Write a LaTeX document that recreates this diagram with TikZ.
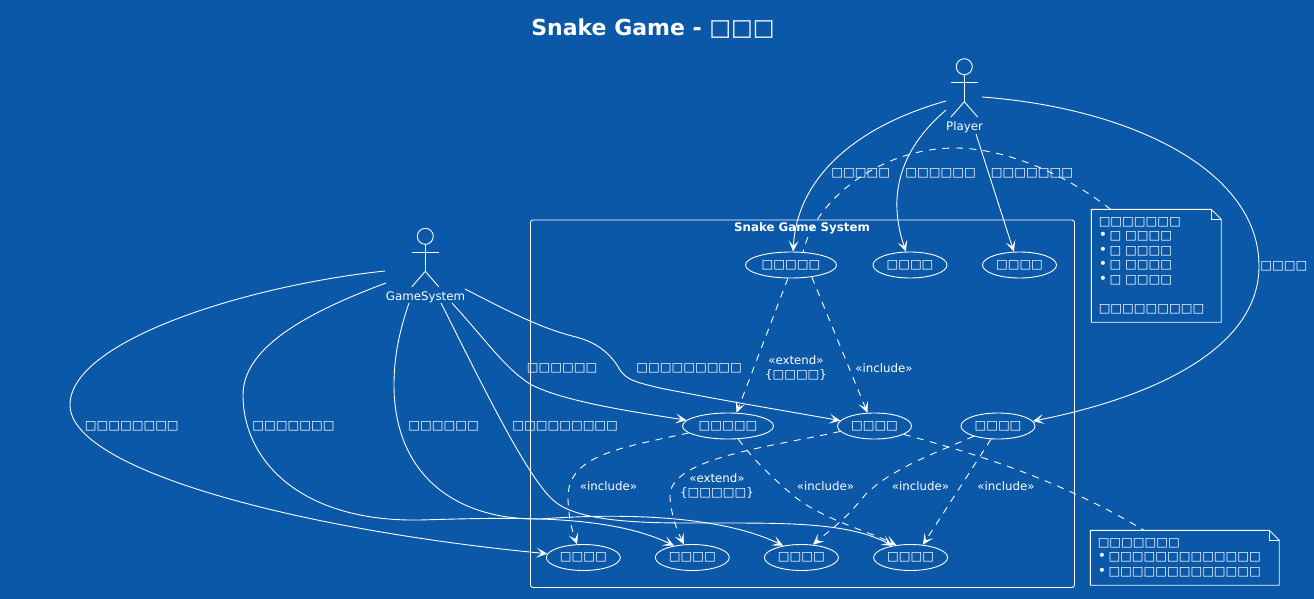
\documentclass[tikz,border=0pt]{standalone}
\usepackage{fontspec}
\setmainfont{DejaVu Sans}
\usepackage{tikz}
\usetikzlibrary{arrows.meta}
\usetikzlibrary{calc}
\usetikzlibrary{shapes.geometric}
\definecolor{bpblue}{HTML}{0B58A8}
\newcommand{\tofu}[1]{{\fontsize{12.4}{12.4}\selectfont #1}}
\newcommand{\blt}{{\fontsize{14}{14}\selectfont •}\hspace{2.5pt}}
\tikzset{
  >={Stealth[length=11pt,width=10pt,inset=5.5pt]},
  txt/.style={inner sep=0pt,font=\fontsize{11.8}{14}\selectfont,align=center},
  ucase/.style={draw,shape=ellipse,inner sep=0pt,minimum width=74pt,minimum height=26pt},
  ucwide/.style={ucase,minimum width=91pt},
  notetxt/.style={txt,align=left,anchor=north west,inner xsep=7pt,font=\fontsize{11.8}{14.6}\selectfont},
  dep/.style={dash pattern=on 7pt off 6.5pt},
  actorfig/.pic={
    \draw (0,0) circle[radius=8pt];
    \draw (0,8) -- (0,35);
    \draw (-13.5,16) -- (13.5,16);
    \draw (-13.5,50.5) -- (0,35) -- (13.5,50.5);
  }
}

\begin{document}
\begin{tikzpicture}[x=1pt,y=-1pt,white,line width=0.9pt]
  \fill[bpblue] (0,0) rectangle (1314,599);
  \useasboundingbox (0,0) rectangle (1314,599);
  \node[txt,font=\bfseries\fontsize{22}{24}\selectfont] (title) at (653,29) {Snake Game - {\mdseries\fontsize{23}{23}\selectfont □□□}};

  \node[draw,rounded corners=2.5pt,anchor=north west,inner sep=0pt,minimum width=544pt,minimum height=367.5pt] (sysbox) at (530,219.5) {};
  \node[txt,font=\bfseries\fontsize{11.8}{14}\selectfont] (systitle) at (802,228.5) {Snake Game System};

  \pic at (964.3,66.7) {actorfig};
  \node[txt] (player) at (964.5,127) {Player};
  \pic at (425.3,236.3) {actorfig};
  \node[txt] (gamesys) at (425.5,297) {GameSystem};

  \coordinate (playerA) at (946,101);
  \coordinate (playerB) at (946,110);
  \coordinate (playerC) at (976,134);
  \coordinate (playerD) at (982,97);
  \coordinate (gameA) at (385,271);
  \coordinate (gameB) at (386,283);
  \coordinate (gameC) at (409,303);
  \coordinate (gameD) at (441,303);
  \coordinate (gameE) at (452,303);
  \coordinate (gameF) at (465,289);

  \node[ucwide] (ucStart) at (791,265) {\tofu{□□□□□}};
  \node[ucase] (ucPause) at (910,265) {\tofu{□□□□}};
  \node[ucase] (ucSetup) at (1019.5,265) {\tofu{□□□□}};
  \node[ucwide] (ucSpawn) at (728,426) {\tofu{□□□□□}};
  \node[ucase] (ucMove) at (874.5,426) {\tofu{□□□□}};
  \node[ucase] (ucTurn) at (998,426) {\tofu{□□□□}};
  \node[ucase] (ucFood) at (583.3,557.5) {\tofu{□□□□}};
  \node[ucase] (ucGrow) at (692.3,557.5) {\tofu{□□□□}};
  \node[ucase] (ucScore) at (801.4,557.5) {\tofu{□□□□}};
  \node[ucase] (ucDraw) at (910.6,557.5) {\tofu{□□□□}};

  \node[notetxt,text width=115pt,minimum height=112pt] (noteTop) at (1091.3,209.3) {\tofu{□□□□□□□}\\
    \blt\tofu{□ □□□□}\\
    \blt\tofu{□ □□□□}\\
    \blt\tofu{□ □□□□}\\
    \blt\tofu{□ □□□□}\\[14.6pt]
    \tofu{□□□□□□□□□}};
  \draw (noteTop.north west) -- ($(noteTop.north east)+(-10,0)$) -- ($(noteTop.north east)+(0,10)$) -- (noteTop.south east) -- (noteTop.south west) -- cycle;
  \draw ($(noteTop.north east)+(-10,0)$) -- ($(noteTop.north east)+(-10,10)$) -- ($(noteTop.north east)+(0,10)$);
  \node[notetxt,text width=174pt,minimum height=54pt] (noteLow) at (1090.3,530.3) {\tofu{□□□□□□□}\\
    \blt\tofu{□□□□□□□□□□□□□}\\
    \blt\tofu{□□□□□□□□□□□□□}};
  \draw (noteLow.north west) -- ($(noteLow.north east)+(-10,0)$) -- ($(noteLow.north east)+(0,10)$) -- (noteLow.south east) -- (noteLow.south west) -- cycle;
  \draw ($(noteLow.north east)+(-10,0)$) -- ($(noteLow.north east)+(-10,10)$) -- ($(noteLow.north east)+(0,10)$);

  \draw[->] (playerA) .. controls (860,125) and (797,175) .. (ucStart.81);
  \draw[->] (playerB) .. controls (905,145) and (885,190) .. (ucPause.107);
  \draw[->] (playerC) -- (ucSetup.113);
  \draw[->] (playerD) .. controls (1130,108) and (1259,170) .. (1259,266) .. controls (1259,350) and (1150,398) .. (ucTurn.8);

  \draw[->] (gameA) .. controls (250,285) and (70,340) .. (70,405) .. controls (70,470) and (300,530) .. (ucFood.174);
  \draw[->] (gameB) .. controls (300,315) and (243,350) .. (243,395) .. controls (243,460) and (300,522) .. (420,520) .. controls (520,517) and (610,515) .. (ucGrow.147);
  \draw[->] (gameC) .. controls (398,335) and (394,360) .. (394,385) .. controls (394,470) and (450,520) .. (540,519) .. controls (620,513) and (720,515) .. (ucScore.147);
  \draw[->] (gameD) .. controls (475,370) and (525,475) .. (553,500) .. controls (580,525) and (660,523) .. (720,523) .. controls (790,523) and (850,523) .. (ucDraw.147);
  \draw[->] (gameE) .. controls (490,345) and (505,368) .. (530,384) .. controls (560,400) and (620,410) .. (ucSpawn.172);
  \draw[->] (gameF) .. controls (510,312) and (540,328) .. (576,337) .. controls (595,342) and (610,352) .. (620,370) .. controls (627,380) and (635,382) .. (660,388) .. controls (720,400) and (780,410) .. (ucMove.171);

  \draw[dep] (noteTop.129) .. controls (1060,170) and (1000,148) .. (955,148) .. controls (880,148) and (815,200) .. (ucStart.47);
  \draw[dep,->] (ucStart.-103) -- (ucSpawn.57);
  \draw[dep,->] (ucStart.-30) -- (ucMove.118);
  \draw[dep,->] (ucSpawn.190) .. controls (620,448) and (566,455) .. (568,500) .. controls (569,520) and (572,530) .. (ucFood.115);
  \draw[dep,->] (ucMove.189) .. controls (770,447) and (668,458) .. (670,497) .. controls (671,515) and (677,530) .. (ucGrow.123);
  \draw[dep,->] (ucSpawn.-52) .. controls (755,462) and (775,480) .. (795,497) .. controls (825,520) and (865,530) .. (ucDraw.139);
  \draw[dep,->] (ucTurn.203) .. controls (930,455) and (890,470) .. (865,495) .. controls (845,520) and (830,530) .. (ucScore.48);
  \draw[dep,->] (ucTurn.-118) -- (ucDraw.46);
  \draw[dep] (ucMove.-16) .. controls (980,455) and (1060,480) .. (noteLow.146);

  \node[txt,anchor=west] (lblStart) at (831,173) {\tofu{□□□□□}};
  \node[txt,anchor=west] (lblPause) at (905,173) {\tofu{□□□□□□}};
  \node[txt,anchor=west] (lblSetup) at (990.5,173) {\tofu{□□□□□□□}};
  \node[txt,anchor=west] (lblTurn) at (1260,266.5) {\tofu{□□□□}};
  \node[txt,anchor=west] (lblSpawn) at (526.5,368) {\tofu{□□□□□□}};
  \node[txt,anchor=west] (lblMove) at (636,368) {\tofu{□□□□□□□□□}};
  \node[txt,anchor=west] (lblFood) at (84.5,426) {\tofu{□□□□□□□□}};
  \node[txt,anchor=west] (lblGrow) at (252,426) {\tofu{□□□□□□□}};
  \node[txt,anchor=west] (lblScore) at (408,426) {\tofu{□□□□□□}};
  \node[txt,anchor=west] (lblDraw) at (512,426) {\tofu{□□□□□□□□□}};

  \node[txt] (depA) at (796,367.5) {«extend»\\\{\tofu{□□□□}\}};
  \node[txt] (depB) at (884,368) {«include»};
  \node[txt] (depC) at (608.5,486) {«include»};
  \node[txt] (depD) at (717,486) {«extend»\\\{\tofu{□□□□□}\}};
  \node[txt] (depE) at (825.5,486) {«include»};
  \node[txt] (depF) at (920.5,486) {«include»};
  \node[txt] (depG) at (1006,486) {«include»};
\end{tikzpicture}
\end{document}
